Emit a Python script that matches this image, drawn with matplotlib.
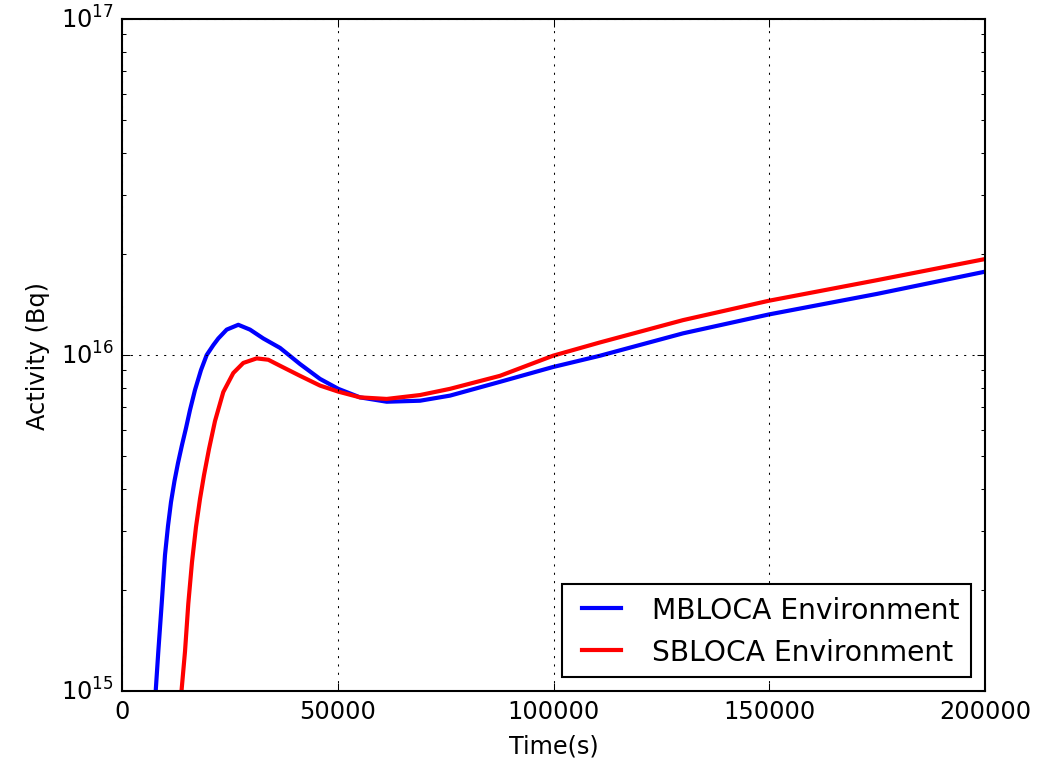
import matplotlib
matplotlib.use("Agg")
import matplotlib.pyplot as plt

# values (time in s, activity in Bq)
mbloca_t = [7000, 7810, 8413, 9200, 9965, 10661, 11356, 12167, 12978, 13905,
            14832, 15759, 16918, 18308, 19629, 21159, 22318, 24264, 26952, 29664,
            32746, 36617, 41252, 45887, 50127, 55157, 61345, 69062, 76014, 87601,
            99884, 110776, 130014, 149873, 174971, 200000]
mbloca_a = [8.0e14, 1.0e15, 1.31e15, 1.82e15, 2.54e15, 3.10e15, 3.65e15, 4.22e15, 4.77e15, 5.40e15,
            6.06e15, 6.86e15, 7.87e15, 9.02e15, 1.0e16, 1.07e16, 1.12e16, 1.19e16, 1.23e16, 1.19e16,
            1.12e16, 1.05e16, 9.40e15, 8.49e15, 7.93e15, 7.48e15, 7.26e15, 7.31e15, 7.57e15, 8.32e15,
            9.21e15, 9.95e15, 1.16e16, 1.32e16, 1.52e16, 1.77e16]

sbloca_t = [13000, 13789, 14600, 15365, 16222, 17150, 18077, 19004, 20162, 21553,
            23476, 25794, 28111, 31216, 33905, 36617, 41252, 45887, 50127, 55157,
            61345, 69062, 76014, 87601, 99884, 110776, 130014, 149873, 174971, 200000]
sbloca_a = [7.7e14, 1.0e15, 1.31e15, 1.82e15, 2.42e15, 3.08e15, 3.73e15, 4.39e15, 5.25e15, 6.36e15,
            7.76e15, 8.84e15, 9.47e15, 9.77e15, 9.68e15, 9.29e15, 8.67e15, 8.11e15, 7.78e15, 7.48e15,
            7.40e15, 7.60e15, 7.93e15, 8.67e15, 9.95e15, 1.09e16, 1.27e16, 1.45e16, 1.67e16, 1.93e16]

plt.style.use("classic")
plt.rcParams["mathtext.fontset"] = "dejavusans"
plt.rcParams["figure.facecolor"] = "white"
plt.rcParams["savefig.facecolor"] = "white"
plt.rcParams["font.size"] = 11.5

fig = plt.figure(figsize=(1051 / 150, 759 / 150), dpi=150)
ax = fig.add_axes([122 / 1051, 1 - 692 / 759, 863 / 1051, 672 / 759])

ax.plot(mbloca_t, mbloca_a, color="blue", linewidth=2, label="MBLOCA Environment")
ax.plot(sbloca_t, sbloca_a, color="red", linewidth=2, label="SBLOCA Environment")

ax.set_yscale("log")
ax.set_xlim(0, 200000)
ax.set_ylim(1e15, 1e17)
ax.set_xticks([0, 50000, 100000, 150000, 200000])
ax.set_xticklabels(["0", "50000", "100000", "150000", "200000"])
ax.set_xlabel("Time(s)")
ax.set_ylabel("Activity (Bq)")
ax.grid(True, color="k", linestyle=":")
ax.legend(loc="lower right", fontsize=13.5)

fig.savefig("out.png", dpi=150)
